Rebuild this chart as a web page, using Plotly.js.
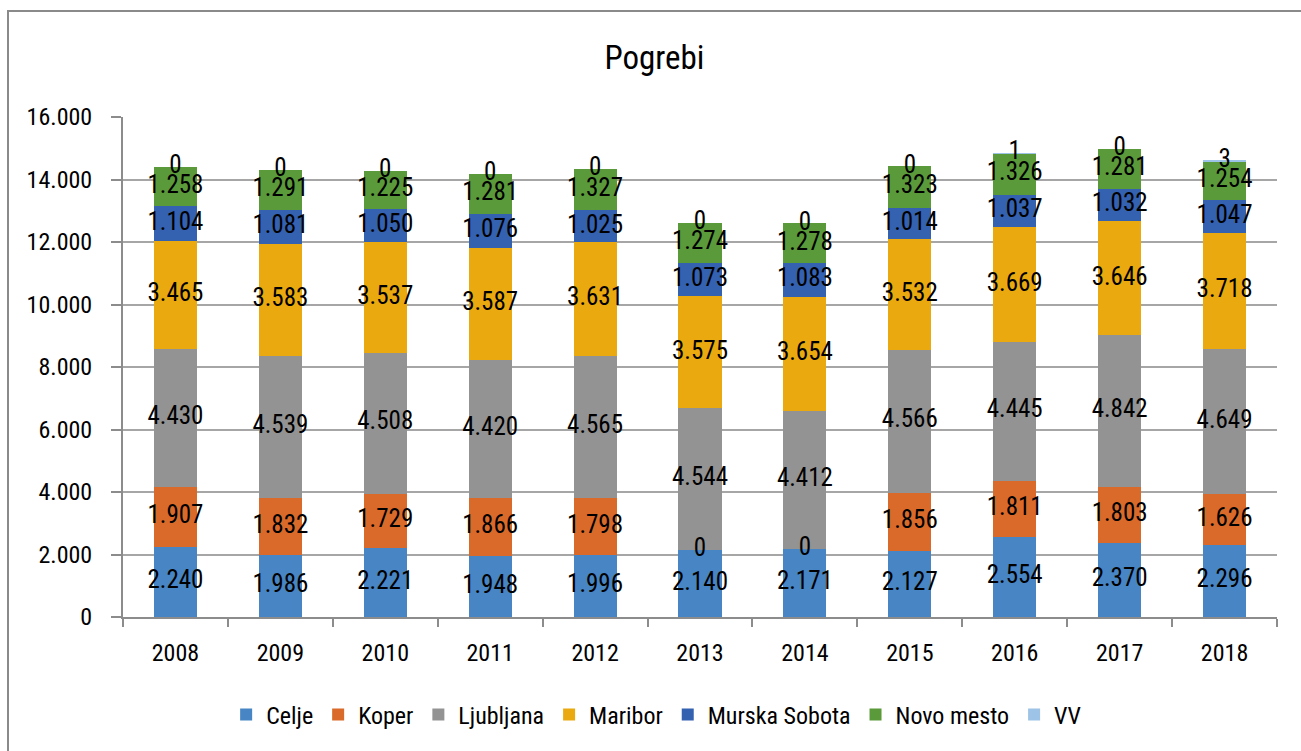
<!DOCTYPE html>
<html>
<head>
<meta charset="utf-8">
<script src="https://cdn.plot.ly/plotly-3.0.1.min.js"></script>
<style>
html,body{margin:0;padding:0;background:#fff;overflow:hidden;}
#chart{width:1301px;height:751px;}
#frame{position:absolute;left:7px;top:10px;width:1400px;height:900px;border:2px solid #8a8a8a;pointer-events:none;}
</style>
</head>
<body>
<div id="chart"></div>
<div id="frame"></div>
<script>
const years = ['2008','2009','2010','2011','2012','2013','2014','2015','2016','2017','2018'];
const seriesNames = ['Celje','Koper','Ljubljana','Maribor','Murska Sobota','Novo mesto','VV'];
const celje = [2240,1986,2221,1948,1996,2140,2171,2127,2554,2370,2296];
const koper = [1907,1832,1729,1866,1798,0,0,1856,1811,1803,1626];
const ljubljana = [4430,4539,4508,4420,4565,4544,4412,4566,4445,4842,4649];
const maribor = [3465,3583,3537,3587,3631,3575,3654,3532,3669,3646,3718];
const murskaSobota = [1104,1081,1050,1076,1025,1073,1083,1014,1037,1032,1047];
const novoMesto = [1258,1291,1225,1281,1327,1274,1278,1323,1326,1281,1254];
const vv = [0,0,0,0,0,0,0,0,1,0,3];
const colors = ['#4785c4','#da6a2a','#939393','#eaa90e','#3461b0','#5b9a3a','#9dc3e6'];

const allSeries = [celje,koper,ljubljana,maribor,murskaSobota,novoMesto,vv];
const FONT = '"Roboto Condensed","Liberation Sans Narrow",Roboto,sans-serif';

function fmt(v){ return String(v).replace(/\B(?=(\d{3})+(?!\d))/g,'.'); }

const traces = [];
const base = years.map(()=>0);
allSeries.forEach((s,i)=>{
  traces.push({type:'bar',name:seriesNames[i],x:years,y:s,marker:{color:colors[i]},hoverinfo:'x+y+name'});
});
allSeries.forEach((s,i)=>{
  const ys = s.map((v,j)=>base[j]+v/2);
  traces.push({type:'scatter',mode:'text',x:years,y:ys,text:s.map(fmt),textposition:'middle center',
    textfont:{family:FONT,size:25,color:'#000'},showlegend:false,hoverinfo:'skip',cliponaxis:false});
  s.forEach((v,j)=>base[j]+=v);
});

const layout = {
  width:1301,height:751,
  paper_bgcolor:'#fff',plot_bgcolor:'#fff',
  margin:{l:123,r:24,t:117,b:134},
  barmode:'stack',bargap:0.59,
  separators:',.',
  font:{family:FONT,size:24,color:'#000'},
  title:{text:'Pogrebi',x:0.503,xref:'container',y:0.924,yref:'container',yanchor:'middle',font:{family:FONT,size:33,color:'#000'}},
  xaxis:{type:'category',range:[-0.5,10.5],autorange:false,showline:true,linecolor:'#8c8c8c',linewidth:2,ticks:'outside',tickson:'boundaries',ticklen:8,tickcolor:'#8c8c8c',tickwidth:2,tickfont:{family:FONT,size:24},ticklabelstandoff:13,tickangle:0,showgrid:false},
  yaxis:{range:[0,16000],autorange:false,dtick:2000,tickformat:',d',showline:true,linecolor:'#8c8c8c',linewidth:2,ticks:'outside',ticklen:10,tickcolor:'#8c8c8c',tickwidth:2,gridcolor:'#a6a6a6',gridwidth:2,zeroline:false,tickfont:{family:FONT,size:24},ticklabelstandoff:14},
  legend:{orientation:'h',x:0.462,xanchor:'center',y:-0.196,yanchor:'middle',font:{family:FONT,size:24},traceorder:'normal'},
  showlegend:true
};
Plotly.newPlot('chart',traces,layout,{displayModeBar:false});
</script>
</body>
</html>
